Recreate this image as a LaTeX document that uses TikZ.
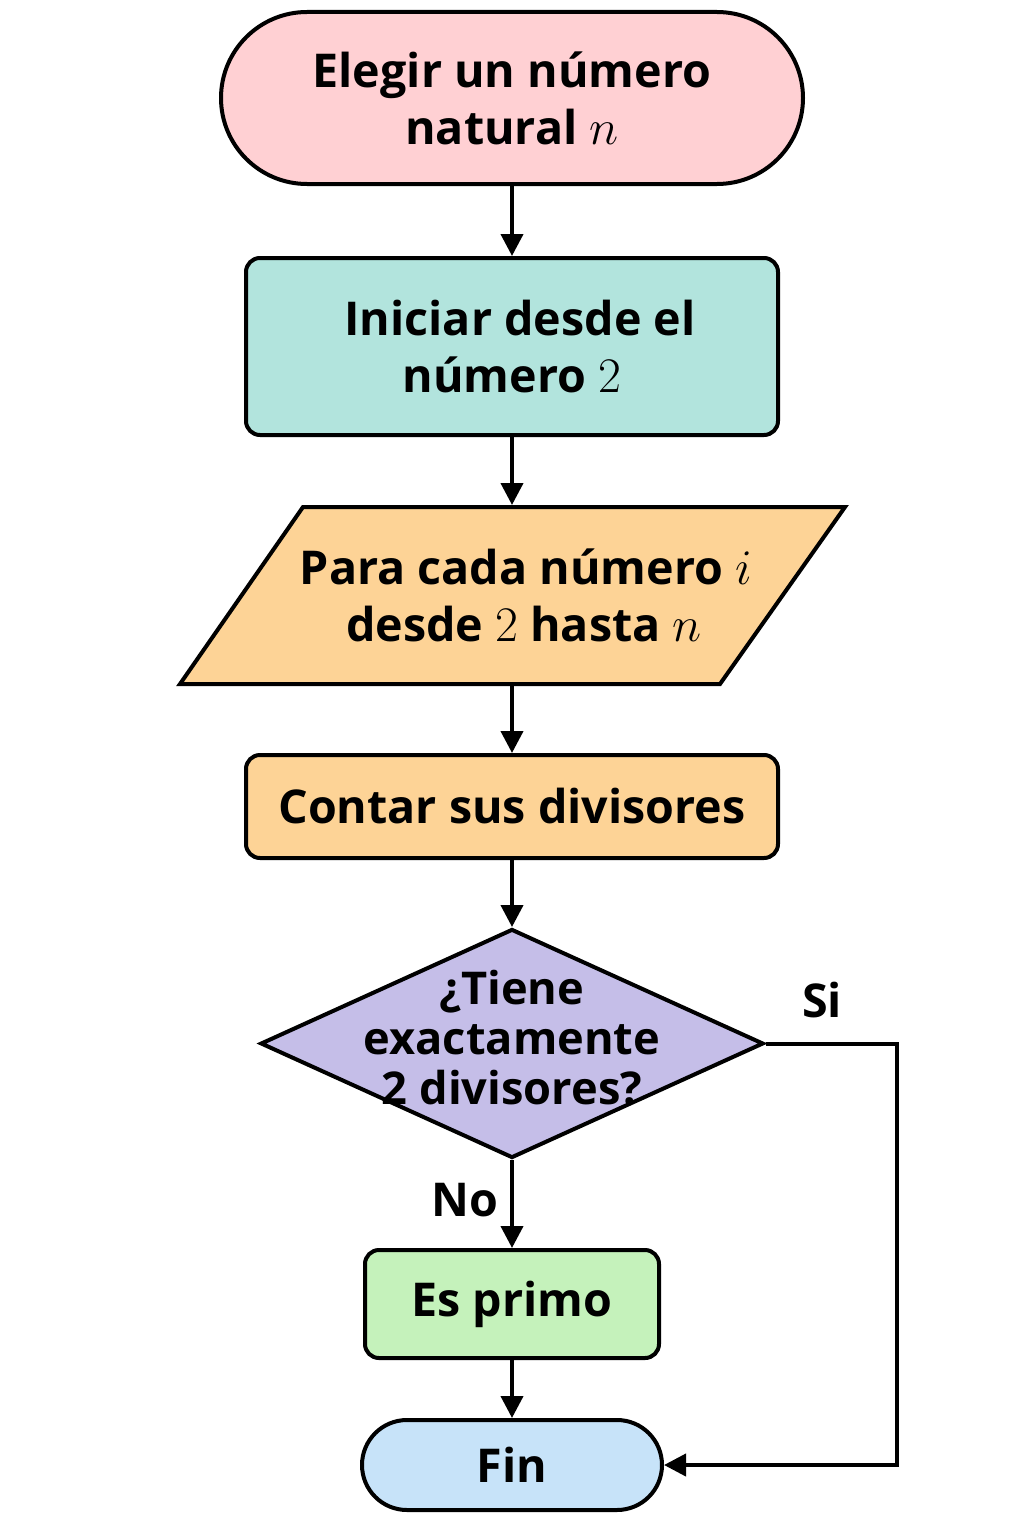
\documentclass[tikz,border=0pt]{standalone}
\usepackage{fontspec}
\setmainfont{Open Sans}
\usetikzlibrary{arrows.meta,shapes.geometric}
\definecolor{cpink}{HTML}{FFD0D3}
\definecolor{cteal}{HTML}{B2E4DD}
\definecolor{corange}{HTML}{FDD396}
\definecolor{clav}{HTML}{C5BEE8}
\definecolor{cgreen}{HTML}{C5F2BB}
\definecolor{cblue}{HTML}{C7E3F9}
\begin{document}
\begin{tikzpicture}[x=0.5pt,y=-0.5pt,line width=2pt,
  txt/.style={font=\fontsize{23.3}{28.5}\selectfont\bfseries,align=center,inner sep=0pt},
  boxstyle/.style={txt,draw,rounded corners=7pt},
  arr/.style={-{Triangle[length=11pt,width=11pt]}}]
\useasboundingbox (0,0) rectangle (1024,1536);
% start
\node[boxstyle,fill=cpink,rounded corners=43pt,minimum width=291pt,minimum height=86pt] (start) at (512,98) {Elegir un número\\natural \(n\)};
% init
\node[boxstyle,fill=cteal,minimum width=266pt,minimum height=88.5pt] (init) at (512,346.5) {\hspace*{8pt}Iniciar desde el\\número \(2\)};
% parallelogram
\fill[corange] (303,507) -- (845,507) -- (720,684) -- (180,684) -- cycle;
\draw (303,507) -- (845,507) -- (720,684) -- (180,684) -- cycle;
\node[txt,minimum height=88.5pt] (loop) at (512,595.5) {\hspace*{14pt}Para cada número \(i\)\\\hspace*{12pt}desde \(2\) hasta \(n\)};
% count
\node[boxstyle,fill=corange,minimum width=266pt,minimum height=51.5pt] (cnt) at (512,806.5) {Contar sus divisores};
% decision
\node[draw,diamond,fill=clav,inner sep=0pt,minimum width=251.5pt,minimum height=114.5pt] (dec) at (512,1043.5) {};
\node[txt,font=\fontsize{22.6}{25}\selectfont\bfseries] (dectxt) at (512,1038) {¿Tiene\\exactamente\\2 divisores?};
% prime
\node[boxstyle,fill=cgreen,minimum width=147pt,minimum height=54pt] (prime) at (512,1304) {Es primo};
% end
\node[boxstyle,fill=cblue,rounded corners=22.5pt,minimum width=150pt,minimum height=45pt] (fin) at (512,1465) {Fin};
% connectors
\draw[arr] (start) -- (init);
\draw[arr] (init) -- (loop);
\draw[arr] (loop) -- (cnt);
\draw[arr] (cnt) -- (dec);
\draw[arr] (dec) -- (prime);
\draw[arr] (prime) -- (fin);
\coordinate (siR) at (897,1043.5);
\draw[arr] (dec.east) -- (siR) |- (fin.east);
% labels
\node[txt] (si) at (822,1000) {Si};
\node[txt] (no) at (465,1200) {No};
\end{tikzpicture}
\end{document}
